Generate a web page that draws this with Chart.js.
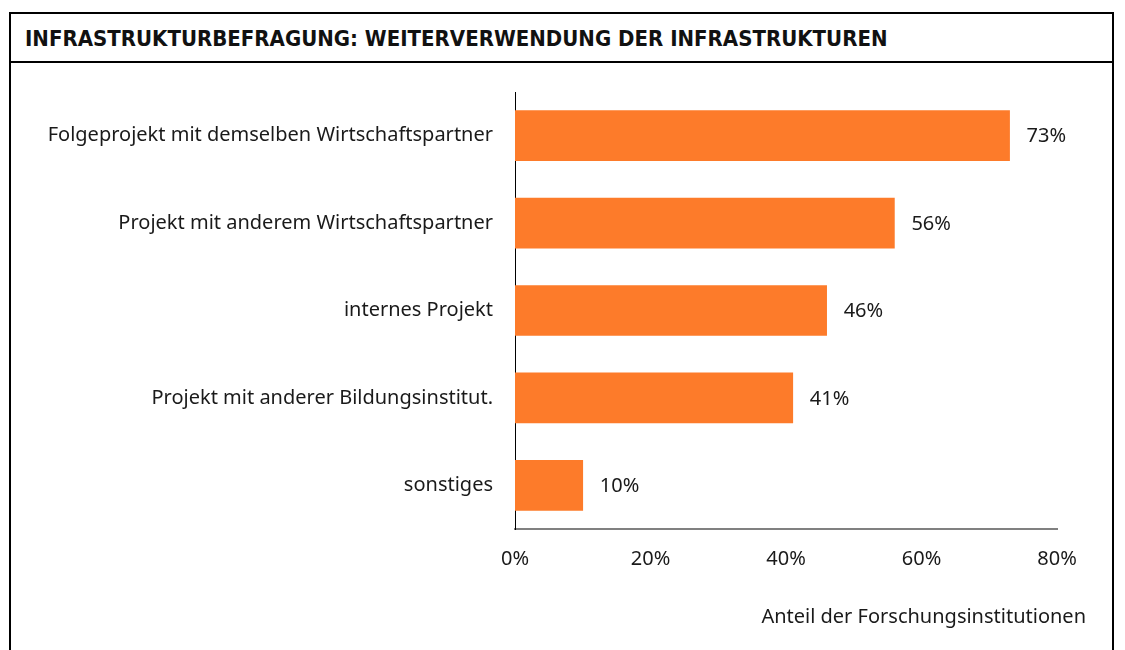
<!DOCTYPE html>
<html>
<head>
<meta charset="utf-8">
<script src="https://cdn.jsdelivr.net/npm/chart.js@4.4.1/dist/chart.umd.min.js"></script>
<style>
  html, body { margin: 0; padding: 0; background: #fff; }
  body { width: 1125px; height: 650px; position: relative; overflow: hidden; }
  #frame {
    position: absolute; left: 9px; top: 12px; width: 1105px; height: 700px;
    border: 2px solid #000; box-sizing: border-box;
  }
  #title {
    position: absolute; left: 0; top: 0; right: 0; height: 49px;
    border-bottom: 2px solid #000;
    font-family: "DejaVu Sans Condensed", "DejaVu Sans", sans-serif;
    font-weight: bold; font-size: 22px; color: #111;
    line-height: 49px; padding-left: 14px; box-sizing: border-box;
  }
  #wrap { position: absolute; left: 0; top: 0; width: 1125px; height: 650px; }
</style>
</head>
<body>
<div id="frame"><div id="title">INFRASTRUKTURBEFRAGUNG: WEITERVERWENDUNG DER INFRASTRUKTUREN</div></div>
<div id="wrap"><canvas id="chart" width="1125" height="650"></canvas></div>
<script>
// data
const categories = [
  "Folgeprojekt mit demselben Wirtschaftspartner",
  "Projekt mit anderem Wirtschaftspartner",
  "internes Projekt",
  "Projekt mit anderer Bildungsinstitut.",
  "sonstiges"
];
const shares = [73, 56, 46, 41, 10];
const xTicks = [0, 20, 40, 60, 80];
const axisTitle = "Anteil der Forschungsinstitutionen";

const FONT = "'Noto Sans', sans-serif";
const TEXT = "#1a1a1a";

// value labels right of each bar
const valueLabels = {
  id: "valueLabels",
  afterDatasetsDraw(chart) {
    const ctx = chart.ctx;
    const meta = chart.getDatasetMeta(0);
    ctx.save();
    ctx.font = "20px " + FONT;
    ctx.fillStyle = TEXT;
    ctx.textBaseline = "middle";
    ctx.textAlign = "left";
    meta.data.forEach((bar, i) => {
      ctx.fillText(shares[i] + "%", bar.x + 17, bar.y + 1);
    });
    ctx.restore();
  }
};

// axis title, right aligned under the tick labels
const axisTitlePlugin = {
  id: "axisTitlePlugin",
  afterDraw(chart) {
    const ctx = chart.ctx;
    ctx.save();
    ctx.font = "20px " + FONT;
    ctx.fillStyle = TEXT;
    ctx.textBaseline = "middle";
    ctx.textAlign = "right";
    ctx.fillText(axisTitle, chart.chartArea.right + 29, 617);
    ctx.restore();
  }
};

new Chart(document.getElementById("chart"), {
  type: "bar",
  data: {
    labels: categories,
    datasets: [{
      data: shares,
      backgroundColor: "#fd7b2a",
      borderWidth: 0,
      barThickness: 50
    }]
  },
  plugins: [valueLabels, axisTitlePlugin],
  options: {
    indexAxis: "y",
    responsive: false,
    animation: false,
    layout: { padding: { top: 92, right: 68, left: 0, bottom: 0 } },
    plugins: {
      legend: { display: false },
      tooltip: { enabled: false }
    },
    scales: {
      x: {
        min: 0,
        max: 80,
        afterBuildTicks(scale) {
          scale.ticks = xTicks.map(v => ({ value: v }));
        },
        afterFit(scale) { scale.height = 121; },
        grid: { display: false, drawTicks: false },
        border: { display: true, color: "#808080", width: 2 },
        ticks: {
          padding: 18,
          color: TEXT,
          font: { family: FONT, size: 20 },
          callback: v => v + "%"
        }
      },
      y: {
        afterFit(scale) { scale.width = 515; },
        grid: { display: false, drawTicks: false },
        border: { display: true, color: "#000", width: 1 },
        ticks: {
          padding: 22,
          color: TEXT,
          font: { family: FONT, size: 20 }
        }
      }
    }
  }
});
</script>
</body>
</html>
